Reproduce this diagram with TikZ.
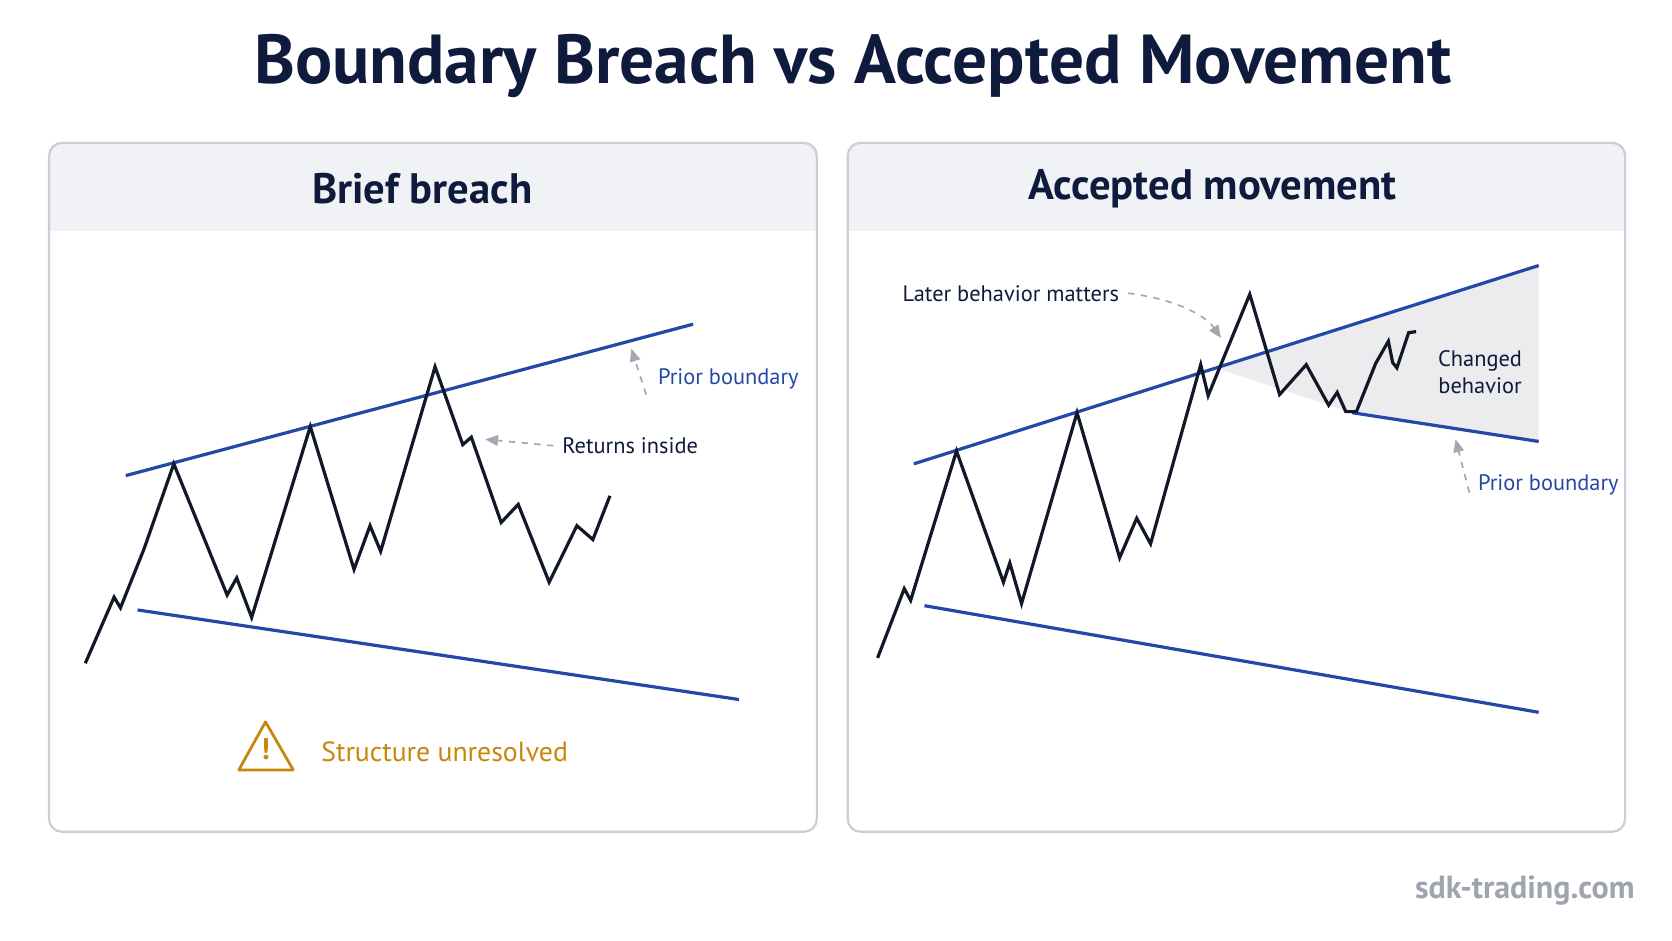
\documentclass[tikz,border=0pt]{standalone}
\usepackage{fontspec}
\setmainfont{PT Sans}
\usetikzlibrary{arrows.meta}
\definecolor{navy}{HTML}{0F1B3D}
\definecolor{bl}{HTML}{2448A8}
\definecolor{pborder}{HTML}{C9CDD8}
\definecolor{hdr}{HTML}{F1F2F5}
\definecolor{orng}{HTML}{C8860A}
\definecolor{shadegray}{HTML}{ECECEF}
\definecolor{arr}{HTML}{A3A8B5}
\definecolor{wm}{HTML}{A0A4AE}
\definecolor{ink}{HTML}{111827}
\tikzset{
 x=0.5pt,y=-0.5pt,
 panel/.style={draw=pborder,line width=1pt,rounded corners=6pt},
 bound/.style={draw=bl,line width=1.5pt},
 price/.style={draw=ink,line width=1.5pt,line join=miter},
 note/.style={dashed,draw=arr,line width=0.8pt,-{Triangle[length=6pt,width=5pt]}},
 lbl/.style={font=\fontsize{10.5}{13}\selectfont,text=navy,inner sep=4pt},
 blbl/.style={font=\fontsize{10.5}{13}\selectfont,text=bl,inner sep=1pt},
 head/.style={font=\fontsize{20}{24}\selectfont\bfseries,text=navy},
}
\begin{document}
\begin{tikzpicture}
\useasboundingbox[fill=white] (0,0) rectangle (1568,882);
\node[font=\fontsize{32.5}{40}\selectfont\bfseries,text=navy] (title) at (800,62) {Boundary Breach vs Accepted Movement};
% panels
\foreach \a/\b in {46/766,795/1524}{
 \begin{scope}
 \clip[rounded corners=6pt] (\a,134) rectangle (\b,780);
 \fill[hdr] (\a,134) rectangle (\b,217);
 \end{scope}
 \draw[panel] (\a,134) rectangle (\b,780);
}
\node[head] (hl) at (396,177) {Brief breach};
\node[head] (hr) at (1137,177) {Accepted movement};
% left
\draw[bound] (118,446) -- (650,304);
\draw[bound] (129,572) -- (693,656);
\draw[price] (80,622)--(107,560)--(113,570)--(135,515)--(163,435)--(213,558)--(222,542)--(236,579)--(291,400)--(332,534)--(347,493)--(357,517)--(408,344)--(434,417)--(442,410)--(470,490)--(486,473)--(515,546)--(541,493)--(556,506)--(572,465);
\node[blbl] (pb1) at (683,355) {Prior boundary};
\coordinate (pb1a) at (606,370); \coordinate (pb1b) at (592,327);
\draw[note] (pb1a) -- (pb1b);
\node[lbl] (ri) at (591,418) {Returns inside};
\coordinate (ria) at (455,412);
\draw[note] (ri.west) -- (ria);
\draw[orng,line width=1.3pt,line join=round] (249,677)--(275,722)--(224,722)--cycle;
\node[text=orng,font=\fontsize{14}{14}\selectfont\bfseries] (warn) at (249,703) {!};
\node[font=\fontsize{13}{15}\selectfont,text=orng] (su) at (417,705) {Structure unresolved};
% right
\fill[shadegray] (1140,345) -- (1443,249) -- (1443,414) -- (1268,387) -- cycle;
\draw[bound] (857,435) -- (1443,249);
\draw[bound] (867,568) -- (1443,668);
\draw[bound] (1268,387) -- (1443,414);
\draw[price] (823,617)--(848,552)--(854,563)--(897,423)--(941,546)--(947,528)--(958,566)--(1010,387)--(1050,523)--(1066,486)--(1079,510)--(1126,342)--(1133,371)--(1172,276)--(1200,370)--(1225,342)--(1246,380)--(1254,368)--(1262,386)--(1272,386)--(1290,341)--(1302,320)--(1306,340)--(1310,345)--(1321,312)--(1328,311);
\node[lbl] (lb) at (948,275) {Later behavior matters};
\coordinate (lba) at (1145,317);
\draw[note] (lb.east) .. controls (1100,280) and (1130,295) .. (lba);
\node[lbl,align=center] (cb) at (1388,349) {Changed\\behavior};
\node[blbl] (pb2) at (1452,455) {Prior boundary};
\coordinate (pb2a) at (1378,462); \coordinate (pb2b) at (1365,412);
\draw[note] (pb2a) -- (pb2b);
\node[font=\fontsize{15}{18}\selectfont\bfseries,text=wm] (wmk) at (1430,835) {sdk-trading.com};
\end{tikzpicture}
\end{document}
